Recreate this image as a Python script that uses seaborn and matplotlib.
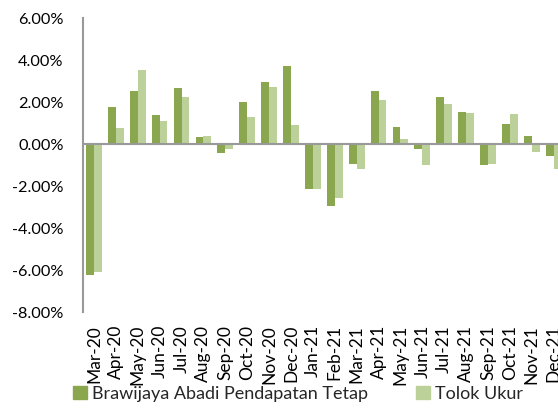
import matplotlib
matplotlib.use("Agg")
import matplotlib.pyplot as plt
import seaborn as sns
import pandas as pd
from matplotlib.ticker import FuncFormatter
from matplotlib.patches import Patch

months = ["Mar-20", "Apr-20", "May-20", "Jun-20", "Jul-20", "Aug-20", "Sep-20",
          "Oct-20", "Nov-20", "Dec-20", "Jan-21", "Feb-21", "Mar-21", "Apr-21",
          "May-21", "Jun-21", "Jul-21", "Aug-21", "Sep-21", "Oct-21", "Nov-21", "Dec-21"]
fund = [-6.24, 1.75, 2.52, 1.38, 2.67, 0.32, -0.44, 2.02, 2.95, 3.71, -2.14,
        -2.94, -0.94, 2.52, 0.79, -0.24, 2.24, 1.52, -1.02, 0.97, 0.37, -0.56]
bench = [-6.08, 0.75, 3.52, 1.10, 2.25, 0.40, -0.25, 1.30, 2.73, 0.90, -2.13,
         -2.56, -1.17, 2.10, 0.24, -1.00, 1.89, 1.46, -0.95, 1.43, -0.37, -1.21]
series_names = ["Brawijaya Abadi Pendapatan Tetap", "Tolok Ukur"]
colors = ["#8aa64f", "#bcd19a"]
yticks = [6, 4, 2, 0, -2, -4, -6, -8]

df = pd.DataFrame({
    "month": months * 2,
    "value": fund + bench,
    "series": [series_names[0]] * len(months) + [series_names[1]] * len(months),
})

sns.set_style("white")
plt.rcParams["font.family"] = ["Lato", "DejaVu Sans"]

fig = plt.figure(figsize=(5.58, 4.09), dpi=100)
ax = fig.add_axes([83 / 558, 1 - 312 / 409, 481.6 / 558, 294 / 409])

sns.barplot(data=df, x="month", y="value", hue="series", order=months,
            hue_order=series_names, palette=colors, width=0.72, gap=0,
            saturation=1, ax=ax, legend=False, linewidth=0)

ax.set_xlim(-0.5, len(months) - 0.5)
ax.set_ylim(-8, 6)
ax.set_yticks(yticks)
ax.yaxis.set_major_formatter(FuncFormatter(lambda v, p: f"{v:.2f}%"))
ax.axhline(0, color="#999999", linewidth=1.5, zorder=3)
for s in ["top", "right", "bottom"]:
    ax.spines[s].set_visible(False)
ax.spines["left"].set_color("#999999")
ax.spines["left"].set_linewidth(1.5)
ax.tick_params(axis="both", length=0, colors="black")
ax.tick_params(axis="y", pad=14, labelsize=11.7)
ax.tick_params(axis="x", pad=9.4, labelsize=12.5)
ax.set_xticks(range(len(months)))
ax.set_xticklabels(months, rotation=90)
ax.set_xlabel("")
ax.set_ylabel("")

handles = [Patch(color=c) for c in colors]
fig.legend(handles, series_names, loc="lower left", bbox_to_anchor=(66 / 558, 0.0),
           ncol=2, frameon=False, fontsize=13, handlelength=0.75, handleheight=0.75,
           handletextpad=0.3, columnspacing=2.65, borderaxespad=0)

fig.savefig("out.png", dpi=100)
